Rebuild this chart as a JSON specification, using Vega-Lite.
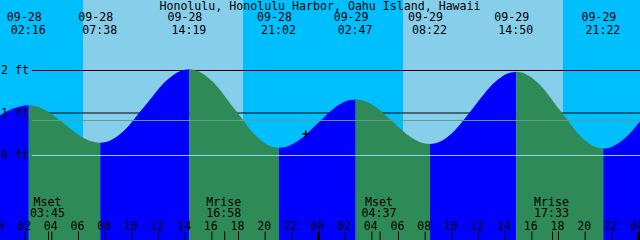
{
  "$schema": "https://vega.github.io/schema/vega-lite/v6.json",
  "width": 640,
  "height": 240,
  "autosize": {"type": "fit", "contains": "padding"},
  "padding": 0,
  "background": "#00BFFF",
  "config": {
    "view": {"stroke": null},
    "text": {"font": "DejaVu Sans Mono", "fontSize": 11.6, "color": "#000000"}
  },
  "datasets": {
    "day": [{"start": 6.34, "end": 18.34}, {"start": 30.34, "end": 42.33}],
    "levels": [{"h": 1, "t": 2.51, "t2": 49}, {"h": 2, "t": 2.51, "t2": 49}],
    "datum_lines": [{"h": 0.824, "t": 2.51, "t2": 49, "kind": "MSL"}, {"h": 0, "t": 2.51, "t2": 49, "kind": "MLLW"}],
    "ftlabels": [{"h": 2, "t": 0.19, "label": "2 ft"}, {"h": 1, "t": 0.19, "label": "1 ft"}, {"h": 0, "t": 0.19, "label": "0 ft"}],
    "tide": [
      {"seg": "s0", "phase": "rise", "t": -0.5, "h": 0.82},
      {"seg": "s0", "phase": "rise", "t": 0.6, "h": 1.037},
      {"seg": "s0", "phase": "rise", "t": 1.6, "h": 1.156},
      {"seg": "s0", "phase": "rise", "t": 2.267, "h": 1.18},
      {"seg": "sA", "phase": "fall", "t": 2.267, "h": 1.18},
      {"seg": "sA", "phase": "fall", "t": 2.804, "h": 1.158},
      {"seg": "sA", "phase": "fall", "t": 3.608, "h": 1.051},
      {"seg": "sA", "phase": "fall", "t": 4.95, "h": 0.74},
      {"seg": "sA", "phase": "fall", "t": 6.292, "h": 0.429},
      {"seg": "sA", "phase": "fall", "t": 7.096, "h": 0.322},
      {"seg": "sA", "phase": "fall", "t": 7.633, "h": 0.3},
      {"seg": "sB", "phase": "rise", "t": 7.633, "h": 0.3},
      {"seg": "sB", "phase": "rise", "t": 8.301, "h": 0.342},
      {"seg": "sB", "phase": "rise", "t": 9.304, "h": 0.553},
      {"seg": "sB", "phase": "rise", "t": 10.975, "h": 1.165},
      {"seg": "sB", "phase": "rise", "t": 12.646, "h": 1.777},
      {"seg": "sB", "phase": "rise", "t": 13.649, "h": 1.988},
      {"seg": "sB", "phase": "rise", "t": 14.317, "h": 2.03},
      {"seg": "sC", "phase": "fall", "t": 14.317, "h": 2.03},
      {"seg": "sC", "phase": "fall", "t": 14.989, "h": 1.985},
      {"seg": "sC", "phase": "fall", "t": 15.996, "h": 1.759},
      {"seg": "sC", "phase": "fall", "t": 17.675, "h": 1.105},
      {"seg": "sC", "phase": "fall", "t": 19.354, "h": 0.451},
      {"seg": "sC", "phase": "fall", "t": 20.361, "h": 0.225},
      {"seg": "sC", "phase": "fall", "t": 21.033, "h": 0.18},
      {"seg": "sD", "phase": "rise", "t": 21.033, "h": 0.18},
      {"seg": "sD", "phase": "rise", "t": 21.608, "h": 0.208},
      {"seg": "sD", "phase": "rise", "t": 22.471, "h": 0.347},
      {"seg": "sD", "phase": "rise", "t": 23.908, "h": 0.75},
      {"seg": "sD", "phase": "rise", "t": 25.346, "h": 1.153},
      {"seg": "sD", "phase": "rise", "t": 26.208, "h": 1.292},
      {"seg": "sD", "phase": "rise", "t": 26.783, "h": 1.32},
      {"seg": "sE", "phase": "fall", "t": 26.783, "h": 1.32},
      {"seg": "sE", "phase": "fall", "t": 27.341, "h": 1.294},
      {"seg": "sE", "phase": "fall", "t": 28.179, "h": 1.166},
      {"seg": "sE", "phase": "fall", "t": 29.575, "h": 0.795},
      {"seg": "sE", "phase": "fall", "t": 30.971, "h": 0.424},
      {"seg": "sE", "phase": "fall", "t": 31.809, "h": 0.296},
      {"seg": "sE", "phase": "fall", "t": 32.367, "h": 0.27},
      {"seg": "sF", "phase": "rise", "t": 32.367, "h": 0.27},
      {"seg": "sF", "phase": "rise", "t": 33.014, "h": 0.312},
      {"seg": "sF", "phase": "rise", "t": 33.984, "h": 0.519},
      {"seg": "sF", "phase": "rise", "t": 35.6, "h": 1.12},
      {"seg": "sF", "phase": "rise", "t": 37.217, "h": 1.721},
      {"seg": "sF", "phase": "rise", "t": 38.186, "h": 1.928},
      {"seg": "sF", "phase": "rise", "t": 38.833, "h": 1.97},
      {"seg": "sG", "phase": "fall", "t": 38.833, "h": 1.97},
      {"seg": "sG", "phase": "fall", "t": 39.486, "h": 1.926},
      {"seg": "sG", "phase": "fall", "t": 40.467, "h": 1.706},
      {"seg": "sG", "phase": "fall", "t": 42.1, "h": 1.068},
      {"seg": "sG", "phase": "fall", "t": 43.734, "h": 0.429},
      {"seg": "sG", "phase": "fall", "t": 44.714, "h": 0.209},
      {"seg": "sG", "phase": "fall", "t": 45.367, "h": 0.165},
      {"seg": "sH", "phase": "rise", "t": 45.367, "h": 0.165},
      {"seg": "sH", "phase": "rise", "t": 45.99, "h": 0.203},
      {"seg": "sH", "phase": "rise", "t": 46.93, "h": 0.392},
      {"seg": "sH", "phase": "rise", "t": 48.48, "h": 0.94},
      {"seg": "sH", "phase": "rise", "t": 50.0, "h": 1.49}
    ],
    "events": [
      {"t": 2.267, "date": "09-28", "time": "02:16"},
      {"t": 7.633, "date": "09-28", "time": "07:38"},
      {"t": 14.317, "date": "09-28", "time": "14:19"},
      {"t": 21.033, "date": "09-28", "time": "21:02"},
      {"t": 26.783, "date": "09-29", "time": "02:47"},
      {"t": 32.367, "date": "09-29", "time": "08:22"},
      {"t": 38.833, "date": "09-29", "time": "14:50"},
      {"t": 45.367, "date": "09-29", "time": "21:22"}
    ],
    "moon": [
      {"t": 3.75, "ev": "Mset", "time": "03:45"},
      {"t": 16.967, "ev": "Mrise", "time": "16:58"},
      {"t": 28.617, "ev": "Mset", "time": "04:37"},
      {"t": 41.55, "ev": "Mrise", "time": "17:33"}
    ],
    "hours": [
      {"t": 0, "label": "00"}, {"t": 2, "label": "02"}, {"t": 4, "label": "04"}, {"t": 6, "label": "06"},
      {"t": 8, "label": "08"}, {"t": 10, "label": "10"}, {"t": 12, "label": "12"}, {"t": 14, "label": "14"},
      {"t": 16, "label": "16"}, {"t": 18, "label": "18"}, {"t": 20, "label": "20"}, {"t": 22, "label": "22"},
      {"t": 24, "label": "00"}, {"t": 26, "label": "02"}, {"t": 28, "label": "04"}, {"t": 30, "label": "06"},
      {"t": 32, "label": "08"}, {"t": 34, "label": "10"}, {"t": 36, "label": "12"}, {"t": 38, "label": "14"},
      {"t": 40, "label": "16"}, {"t": 42, "label": "18"}, {"t": 44, "label": "20"}, {"t": 46, "label": "22"},
      {"t": 48, "label": "00"}
    ],
    "now": [{"t": 23.04, "h": 0.513}],
    "title": [{"t": 24.1125, "h": 3.424, "label": "Honolulu, Honolulu Harbor, Oahu Island, Hawaii"}]
  },
  "layer": [
    {
      "data": {"name": "day"},
      "mark": {"type": "rect", "color": "#87CEEB"},
      "encoding": {
        "x": {"field": "start", "type": "quantitative", "scale": {"domain": [0.1125, 48.1125], "nice": false, "zero": false}, "axis": null},
        "x2": {"field": "end"}
      }
    },
    {
      "data": {"name": "levels"},
      "mark": {"type": "rule", "color": "#000000", "strokeWidth": 1, "clip": true},
      "encoding": {
        "x": {"field": "t", "type": "quantitative", "scale": {"domain": [0.1125, 48.1125], "nice": false, "zero": false}, "axis": null},
        "x2": {"field": "t2"},
        "y": {"field": "h", "type": "quantitative", "scale": {"domain": [-1.988, 3.659], "nice": false, "zero": false}, "axis": null}
      }
    },
    {
      "data": {"name": "tide"},
      "mark": {"type": "area", "interpolate": "monotone", "clip": true},
      "encoding": {
        "x": {"field": "t", "type": "quantitative", "scale": {"domain": [0.1125, 48.1125], "nice": false, "zero": false}, "axis": null},
        "y": {"field": "h", "type": "quantitative", "scale": {"domain": [-1.988, 3.659], "nice": false, "zero": false}, "axis": null},
        "y2": {"datum": -1.988},
        "color": {"field": "phase", "type": "nominal", "scale": {"domain": ["rise", "fall"], "range": ["#0000FF", "#2E8B57"]}, "legend": null},
        "detail": {"field": "seg"}
      }
    },
    {
      "data": {"name": "datum_lines"},
      "mark": {"type": "rule", "strokeWidth": 1, "clip": true},
      "encoding": {
        "x": {"field": "t", "type": "quantitative", "scale": {"domain": [0.1125, 48.1125], "nice": false, "zero": false}, "axis": null},
        "x2": {"field": "t2"},
        "y": {"field": "h", "type": "quantitative", "scale": {"domain": [-1.988, 3.659], "nice": false, "zero": false}, "axis": null},
        "stroke": {"field": "kind", "type": "nominal", "scale": {"domain": ["MSL", "MLLW"], "range": ["#5F9F8F", "#90D4EA"]}, "legend": null}
      }
    },
    {
      "data": {"name": "ftlabels"},
      "mark": {"type": "text", "align": "left", "baseline": "alphabetic", "dy": 3.5},
      "encoding": {
        "x": {"field": "t", "type": "quantitative", "scale": {"domain": [0.1125, 48.1125], "nice": false, "zero": false}, "axis": null},
        "y": {"field": "h", "type": "quantitative", "scale": {"domain": [-1.988, 3.659], "nice": false, "zero": false}, "axis": null},
        "text": {"field": "label"}
      }
    },
    {
      "data": {"name": "title"},
      "mark": {"type": "text", "align": "center", "baseline": "alphabetic", "clip": true},
      "encoding": {
        "x": {"field": "t", "type": "quantitative", "scale": {"domain": [0.1125, 48.1125], "nice": false, "zero": false}, "axis": null},
        "y": {"field": "h", "type": "quantitative", "scale": {"domain": [-1.988, 3.659], "nice": false, "zero": false}, "axis": null},
        "text": {"field": "label"}
      }
    },
    {
      "data": {"name": "events"},
      "mark": {"type": "text", "align": "center", "baseline": "alphabetic", "dx": -4.5, "clip": true},
      "encoding": {
        "x": {"field": "t", "type": "quantitative", "scale": {"domain": [0.1125, 48.1125], "nice": false, "zero": false}, "axis": null},
        "y": {"datum": 3.165, "type": "quantitative", "scale": {"domain": [-1.988, 3.659], "nice": false, "zero": false}, "axis": null},
        "text": {"field": "date"}
      }
    },
    {
      "data": {"name": "events"},
      "mark": {"type": "text", "align": "center", "baseline": "alphabetic", "dx": -0.5, "clip": true},
      "encoding": {
        "x": {"field": "t", "type": "quantitative", "scale": {"domain": [0.1125, 48.1125], "nice": false, "zero": false}, "axis": null},
        "y": {"datum": 2.859, "type": "quantitative", "scale": {"domain": [-1.988, 3.659], "nice": false, "zero": false}, "axis": null},
        "text": {"field": "time"}
      }
    },
    {
      "data": {"name": "moon"},
      "mark": {"type": "text", "align": "center", "baseline": "alphabetic", "dx": -1},
      "encoding": {
        "x": {"field": "t", "type": "quantitative", "scale": {"domain": [0.1125, 48.1125], "nice": false, "zero": false}, "axis": null},
        "y": {"datum": -1.188, "type": "quantitative", "scale": {"domain": [-1.988, 3.659], "nice": false, "zero": false}, "axis": null},
        "text": {"field": "ev"}
      }
    },
    {
      "data": {"name": "moon"},
      "mark": {"type": "text", "align": "center", "baseline": "alphabetic", "dx": -1},
      "encoding": {
        "x": {"field": "t", "type": "quantitative", "scale": {"domain": [0.1125, 48.1125], "nice": false, "zero": false}, "axis": null},
        "y": {"datum": -1.447, "type": "quantitative", "scale": {"domain": [-1.988, 3.659], "nice": false, "zero": false}, "axis": null},
        "text": {"field": "time"}
      }
    },
    {
      "data": {"name": "hours"},
      "mark": {"type": "text", "align": "center", "baseline": "alphabetic", "dx": -1, "clip": true},
      "encoding": {
        "x": {"field": "t", "type": "quantitative", "scale": {"domain": [0.1125, 48.1125], "nice": false, "zero": false}, "axis": null},
        "y": {"datum": -1.753, "type": "quantitative", "scale": {"domain": [-1.988, 3.659], "nice": false, "zero": false}, "axis": null},
        "text": {"field": "label"}
      }
    },
    {
      "data": {"name": "hours"},
      "transform": [{"filter": "datum.t % 24 != 0"}],
      "mark": {"type": "rule", "color": "#000000", "strokeWidth": 1, "clip": true},
      "encoding": {
        "x": {"field": "t", "type": "quantitative", "scale": {"domain": [0.1125, 48.1125], "nice": false, "zero": false}, "axis": null},
        "y": {"datum": -1.788, "type": "quantitative", "scale": {"domain": [-1.988, 3.659], "nice": false, "zero": false}, "axis": null},
        "y2": {"datum": -1.988}
      }
    },
    {
      "data": {"name": "hours"},
      "transform": [{"filter": "datum.t % 24 == 0"}],
      "mark": {"type": "rule", "color": "#000000", "strokeWidth": 3, "clip": true},
      "encoding": {
        "x": {"field": "t", "type": "quantitative", "scale": {"domain": [0.1125, 48.1125], "nice": false, "zero": false}, "axis": null},
        "y": {"datum": -1.788, "type": "quantitative", "scale": {"domain": [-1.988, 3.659], "nice": false, "zero": false}, "axis": null},
        "y2": {"datum": -1.988}
      }
    },
    {
      "data": {"name": "moon"},
      "mark": {"type": "rule", "color": "#000000", "strokeWidth": 1, "clip": true},
      "encoding": {
        "x": {"field": "t", "type": "quantitative", "scale": {"domain": [0.1125, 48.1125], "nice": false, "zero": false}, "axis": null},
        "y": {"datum": -1.788, "type": "quantitative", "scale": {"domain": [-1.988, 3.659], "nice": false, "zero": false}, "axis": null},
        "y2": {"datum": -1.988}
      }
    },
    {
      "data": {"name": "now"},
      "mark": {"type": "point", "shape": "M-1,0L1,0M0,-1L0,1", "size": 49, "filled": false, "stroke": "#000000", "strokeWidth": 1.5, "opacity": 1, "clip": true},
      "encoding": {
        "x": {"field": "t", "type": "quantitative", "scale": {"domain": [0.1125, 48.1125], "nice": false, "zero": false}, "axis": null},
        "y": {"field": "h", "type": "quantitative", "scale": {"domain": [-1.988, 3.659], "nice": false, "zero": false}, "axis": null}
      }
    }
  ]
}
